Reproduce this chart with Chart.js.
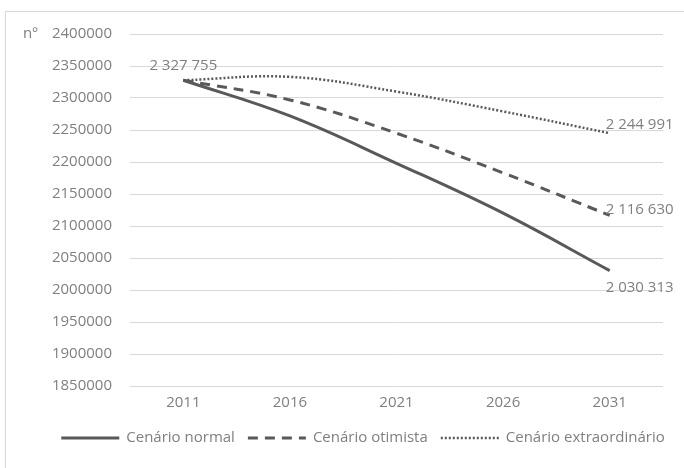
<!DOCTYPE html>
<html>
<head>
<meta charset="utf-8">
<script src="https://cdn.jsdelivr.net/npm/chart.js@4"></script>
<style>
  html, body { margin: 0; padding: 0; background: #fff; }
  #wrap { position: relative; width: 684px; height: 468px; }
</style>
</head>
<body>
<div id="wrap"><canvas id="chart" width="684" height="468"></canvas></div>
<script>
// values
const years = ['2011', '2016', '2021', '2026', '2031'];
const normal = [2327755, 2272000, 2198000, 2120000, 2030313];
const otimista = [2327755, 2297000, 2245000, 2183000, 2116630];
const extraordinario = [2327755, 2333000, 2310000, 2279000, 2244991];
const seriesNames = ['Cenário normal', 'Cenário otimista', 'Cenário extraordinário'];
const yMin = 1850000, yMax = 2400000, yStep = 50000;

const FONT = '"Open Sans", "Liberation Sans", sans-serif';
const TXT = '#7f7f7f';
const LINE = '#595959';

function fmt(v) {
  return String(v).replace(/\B(?=(\d{3})+(?!\d))/g, ' ');
}

// frame, "nº", value labels and the legend (drawn by hand so the dashes show)
const extras = {
  id: 'extras',
  beforeDraw(chart) {
    const ctx = chart.ctx;
    ctx.save();
    ctx.strokeStyle = '#d9d9d9';
    ctx.lineWidth = 1;
    ctx.strokeRect(5.5, 11.5, 720, 500);
    ctx.restore();
  },
  afterDatasetsDraw(chart) {
    const ctx = chart.ctx;
    const y = chart.scales.y;
    ctx.save();
    ctx.font = '15px ' + FONT;
    ctx.fillStyle = TXT;
    ctx.textBaseline = 'middle';
    ctx.textAlign = 'left';
    ctx.fillText('nº', 23, y.getPixelForValue(yMax));

    // first value, above the start point
    const p0 = chart.getDatasetMeta(0).data[0];
    ctx.textAlign = 'center';
    ctx.fillText(fmt(normal[0]), p0.x, p0.y - 15);

    // last values, right of the end points
    const dy = [17, -6, -8];
    const series = [normal, otimista, extraordinario];
    ctx.textAlign = 'left';
    series.forEach((s, i) => {
      const pts = chart.getDatasetMeta(i).data;
      const p = pts[pts.length - 1];
      ctx.fillText(fmt(s[s.length - 1]), p.x - 4, p.y + dy[i]);
    });

    // legend
    const lineW = 58, gap = 7, itemGap = 13, ly = 438;
    const widths = chart.data.datasets.map(d => lineW + gap + ctx.measureText(d.label).width);
    const total = widths.reduce((a, b) => a + b, 0) + itemGap * (widths.length - 1);
    let x = 363 - total / 2;
    chart.data.datasets.forEach((d, i) => {
      ctx.save();
      ctx.strokeStyle = d.borderColor;
      ctx.lineWidth = d.borderWidth;
      ctx.setLineDash(d.borderDash);
      ctx.beginPath();
      ctx.moveTo(x, ly);
      ctx.lineTo(x + lineW, ly);
      ctx.stroke();
      ctx.restore();
      ctx.fillText(d.label, x + lineW + gap, ly);
      x += widths[i] + itemGap;
    });
    ctx.restore();
  }
};

function ds(label, data, dash, width) {
  return {
    label: label,
    data: data,
    borderColor: LINE,
    backgroundColor: LINE,
    borderWidth: width,
    borderDash: dash,
    pointRadius: 0,
    tension: 0.4,
    fill: false
  };
}

new Chart(document.getElementById('chart').getContext('2d'), {
  type: 'line',
  data: {
    labels: years,
    datasets: [
      ds(seriesNames[0], normal, [], 3),
      ds(seriesNames[1], otimista, [10, 7], 3),
      ds(seriesNames[2], extraordinario, [2, 2], 2.5)
    ]
  },
  options: {
    responsive: false,
    animation: false,
    layout: { padding: { left: 0, right: 21, top: 34, bottom: 48 } },
    plugins: {
      legend: { display: false },
      tooltip: { enabled: false }
    },
    scales: {
      x: {
        offset: true,
        grid: { display: false, drawTicks: false },
        border: { display: false },
        ticks: { color: TXT, font: { family: FONT, size: 15 }, padding: 8 },
        afterFit(scale) { scale.height = 34; }
      },
      y: {
        min: yMin,
        max: yMax,
        grid: { color: '#d9d9d9', drawTicks: false },
        border: { display: false },
        ticks: {
          stepSize: yStep,
          color: TXT,
          font: { family: FONT, size: 15 },
          padding: 18,
          callback: v => String(v)
        },
        afterFit(scale) { scale.width = 130; }
      }
    }
  },
  plugins: [extras]
});
</script>
</body>
</html>
